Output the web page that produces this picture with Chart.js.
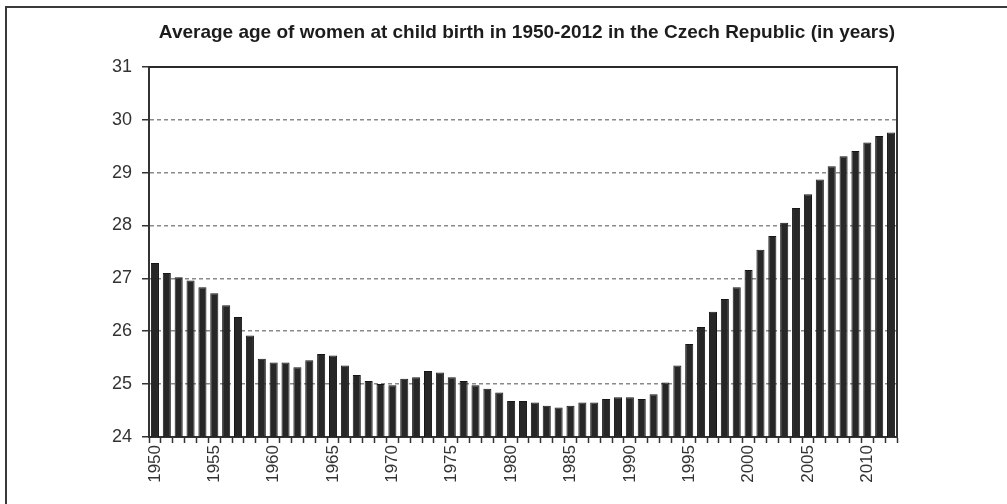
<!DOCTYPE html>
<html lang="en">
<head>
  <meta charset="UTF-8" />
  <title>Average age of women at child birth - Czech Republic</title>
  <script src="https://cdn.jsdelivr.net/npm/chart.js"></script>
  <style>
    html, body { margin: 0; padding: 0; background: #fff; overflow: hidden; }
    #frame {
      position: absolute; left: 5px; top: 6px; width: 1100px; height: 600px;
      border: 2px solid #3a3a3a;
    }
    #chart { position: absolute; left: 0; top: 0; }
  </style>
</head>
<body>
  <div id="frame"></div>
  <canvas id="chart" width="1007" height="504"></canvas>

  <script>
    // years on the x axis
    const years = [
      1950, 1951, 1952, 1953, 1954, 1955, 1956, 1957, 1958, 1959,
      1960, 1961, 1962, 1963, 1964, 1965, 1966, 1967, 1968, 1969,
      1970, 1971, 1972, 1973, 1974, 1975, 1976, 1977, 1978, 1979,
      1980, 1981, 1982, 1983, 1984, 1985, 1986, 1987, 1988, 1989,
      1990, 1991, 1992, 1993, 1994, 1995, 1996, 1997, 1998, 1999,
      2000, 2001, 2002, 2003, 2004, 2005, 2006, 2007, 2008, 2009,
      2010, 2011, 2012
    ];

    // average age of mother at birth
    const avgAge = [
      27.29, 27.10, 27.02, 26.96, 26.83, 26.72, 26.49, 26.27, 25.92, 25.48,
      25.41, 25.41, 25.32, 25.45, 25.57, 25.54, 25.35, 25.17, 25.06, 25.00,
      24.98, 25.10, 25.13, 25.25, 25.22, 25.13, 25.06, 24.98, 24.91, 24.84,
      24.68, 24.68, 24.65, 24.59, 24.56, 24.59, 24.65, 24.65, 24.72, 24.75,
      24.75, 24.72, 24.81, 25.03, 25.35, 25.76, 26.08, 26.37, 26.61, 26.83,
      27.16, 27.54, 27.80, 28.05, 28.33, 28.59, 28.87, 29.12, 29.31, 29.41,
      29.57, 29.69, 29.76
    ];

    // labelled years (every fifth)
    const yearLabels = [1950, 1955, 1960, 1965, 1970, 1975, 1980, 1985, 1990, 1995, 2000, 2005, 2010];

    const yMin = 24;
    const yMax = 31;

    const fontFamily = "'Liberation Sans', Arial, sans-serif";

    new Chart(document.getElementById("chart"), {
      type: "bar",
      data: {
        labels: years,
        datasets: [{
          label: "Average age",
          data: avgAge,
          backgroundColor: "#272727",
          borderColor: "#161616",
          borderWidth: 1,
          categoryPercentage: 1.0,
          barPercentage: 0.68
        }]
      },
      options: {
        responsive: false,
        animation: false,
        layout: { padding: { left: 47, right: 0, top: 0, bottom: 0 } },
        plugins: {
          legend: { display: false },
          tooltip: { enabled: false },
          title: {
            display: true,
            text: "Average age of women at child birth in 1950-2012 in the Czech Republic (in years)",
            color: "#1c1c1c",
            font: { family: fontFamily, size: 19, weight: "bold" },
            padding: { top: 21, bottom: 23 }
          }
        },
        scales: {
          x: {
            position: "bottom",
            grid: {
              drawOnChartArea: false,
              drawTicks: true,
              tickLength: 6,
              tickColor: "#333",
              tickWidth: 1.5
            },
            border: { color: "#333", width: 2 },
            ticks: {
              autoSkip: false,
              minRotation: 90,
              maxRotation: 90,
              padding: 2,
              color: "#333",
              font: { family: fontFamily, size: 17 },
              callback: (v, i) => yearLabels.includes(years[i]) ? String(years[i]) : ""
            },
            afterFit: (scale) => { scale.height = 67; }
          },
          x2: {
            position: "top",
            grid: { display: false },
            ticks: { display: false },
            border: { color: "#2a2a2a", width: 2, z: 1 },
            afterFit: (scale) => { scale.height = 0; }
          },
          y: {
            min: yMin,
            max: yMax,
            ticks: { stepSize: 1, padding: 10, color: "#333", font: { family: fontFamily, size: 18 } },
            grid: {
              color: "#8a8a8a",
              lineWidth: 1.5,
              drawTicks: true,
              tickLength: 7,
              tickColor: "#333",
              tickWidth: 1.5,
              tickBorderDash: []
            },
            border: { color: "#333", width: 2, dash: [4, 3] },
            afterFit: (scale) => { scale.width = 102; }
          },
          y2: {
            position: "right",
            min: yMin,
            max: yMax,
            grid: { display: false },
            ticks: { display: false },
            border: { color: "#333", width: 2 },
            afterFit: (scale) => { scale.width = 110; }
          }
        }
      }
    });
  </script>
</body>
</html>
